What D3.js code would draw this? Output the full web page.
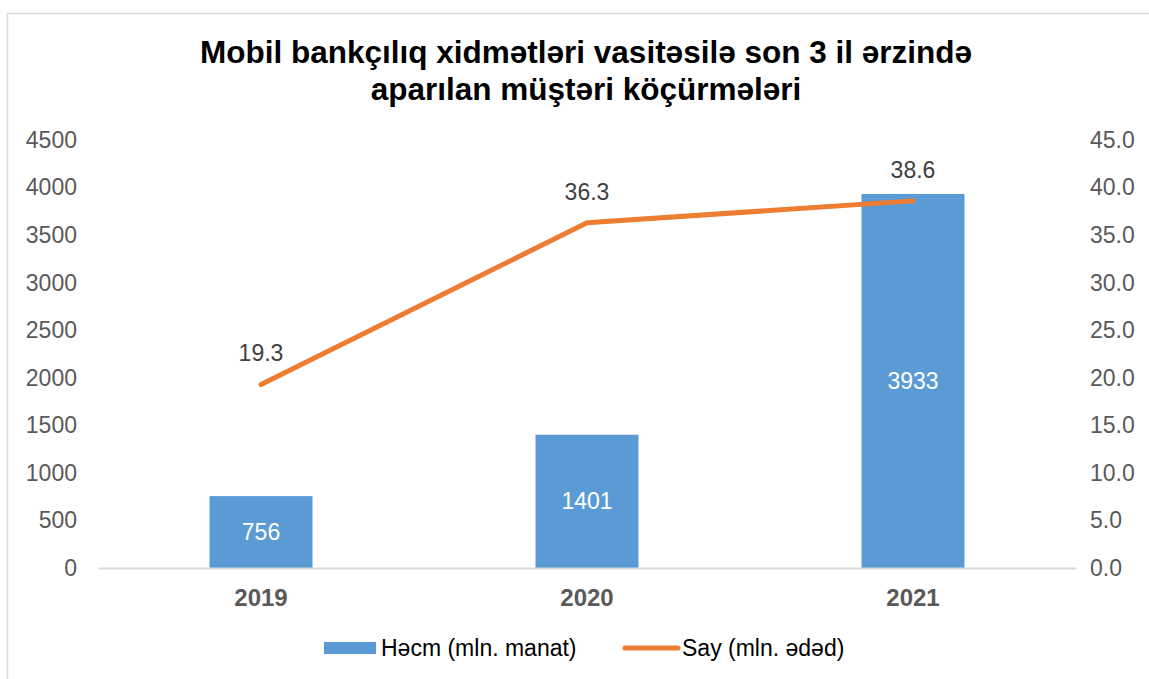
<!DOCTYPE html>
<html>
<head>
<meta charset="utf-8">
<script src="https://cdn.jsdelivr.net/npm/d3@7"></script>
<style>
   body { margin: 0; background: #fff; }
   svg { font-family: "Liberation Sans", Arial, sans-serif; }
</style>
</head>
<body>
<div id="chart"></div>
<script>
const years = ["2019", "2020", "2021"];
const volume = [756, 1401, 3933];
const count = [19.3, 36.3, 38.6];
const leftTicks = [0, 500, 1000, 1500, 2000, 2500, 3000, 3500, 4000, 4500];
const rightTicks = [0, 5, 10, 15, 20, 25, 30, 35, 40, 45];
const titleLines = ["Mobil bankçılıq xidmətləri vasitəsilə son 3 il ərzində", "aparılan müştəri köçürmələri"];
const legendNames = ["Həcm (mln. manat)", "Say (mln. ədəd)"];

const width = 1149, height = 679;
const margin = { top: 140, right: 73, bottom: 111, left: 98 };
const innerW = width - margin.left - margin.right;
const innerH = height - margin.top - margin.bottom;
const font = "Liberation Sans, Arial, sans-serif";

const svg = d3.select("#chart").append("svg")
   .attr("width", width)
   .attr("height", height);

// Outer frame
svg.append("rect")
   .attr("x", 7.5).attr("y", 13.5)
   .attr("width", width).attr("height", height)
   .attr("fill", "none")
   .attr("stroke", "#D9D9D9")
   .attr("stroke-width", 1.5);

// Title
svg.append("text")
   .attr("x", 586).attr("y", 63)
   .attr("text-anchor", "middle")
   .attr("font-size", 31.5).attr("font-weight", "bold").attr("fill", "#000")
   .selectAll("tspan").data(titleLines).join("tspan")
   .attr("x", 586)
   .attr("dy", (d, i) => i === 0 ? 0 : 37)
   .text(d => d);

const g = svg.append("g")
   .attr("transform", "translate(" + margin.left + "," + margin.top + ")");

// Scales
const x = d3.scaleBand().domain(years).range([0, innerW]);
const yLeft = d3.scaleLinear().domain([0, 4500]).range([innerH, 0]);
const yRight = d3.scaleLinear().domain([0, 45]).range([innerH, 0]);
const bandW = x.bandwidth();
const barW = 103;
const cx = d => x(d) + bandW / 2;

// Left axis
const leftAxis = g.append("g")
   .call(d3.axisLeft(yLeft).tickValues(leftTicks).tickSize(0).tickPadding(21).tickFormat(d3.format("d")));
leftAxis.select(".domain").remove();
leftAxis.selectAll("text").attr("font-size", 23).attr("fill", "#595959").attr("font-family", font);

// Right axis
const rightAxis = g.append("g")
   .attr("transform", "translate(" + innerW + ",0)")
   .call(d3.axisRight(yRight).tickValues(rightTicks).tickSize(0).tickPadding(14).tickFormat(d3.format(".1f")));
rightAxis.select(".domain").remove();
rightAxis.selectAll("text").attr("font-size", 23).attr("fill", "#595959").attr("font-family", font);

// Bars
g.selectAll(".bar").data(years).join("rect")
   .attr("class", "bar")
   .attr("x", d => cx(d) - barW / 2)
   .attr("width", barW)
   .attr("y", (d, i) => yLeft(volume[i]))
   .attr("height", (d, i) => innerH - yLeft(volume[i]))
   .attr("fill", "#5B9BD5");

// Bottom axis
const bottomAxis = g.append("g")
   .attr("transform", "translate(0," + innerH + ")")
   .call(d3.axisBottom(x).tickSize(0).tickPadding(21));
bottomAxis.select(".domain").attr("stroke", "#D9D9D9").attr("stroke-width", 2);
bottomAxis.selectAll("text").attr("font-size", 24).attr("font-weight", "bold").attr("fill", "#595959").attr("font-family", font);

// Bar labels
g.selectAll(".bar-label").data(years).join("text")
   .attr("class", "bar-label")
   .attr("x", d => cx(d))
   .attr("y", (d, i) => (yLeft(volume[i]) + innerH) / 2)
   .attr("dy", "0.35em")
   .attr("text-anchor", "middle")
   .attr("font-size", 23).attr("fill", "#fff")
   .text((d, i) => volume[i]);

// Line
const line = d3.line()
   .x((d, i) => cx(years[i]))
   .y(d => yRight(d));
g.append("path")
   .datum(count)
   .attr("d", line)
   .attr("fill", "none")
   .attr("stroke", "#ED7D31")
   .attr("stroke-width", 5)
   .attr("stroke-linecap", "round")
   .attr("stroke-linejoin", "round");

// Line labels
g.selectAll(".line-label").data(count).join("text")
   .attr("class", "line-label")
   .attr("x", (d, i) => cx(years[i]))
   .attr("y", d => yRight(d) - 31)
   .attr("dy", "0.35em")
   .attr("text-anchor", "middle")
   .attr("font-size", 23).attr("fill", "#404040")
   .text(d => d3.format(".1f")(d));

// Legend
const legend = svg.append("g").attr("transform", "translate(0,648)");
legend.append("rect")
   .attr("x", 324).attr("y", -6).attr("width", 52).attr("height", 12)
   .attr("fill", "#5B9BD5");
legend.append("text")
   .attr("x", 381).attr("y", 0).attr("dy", "0.35em")
   .attr("font-size", 23).attr("fill", "#000")
   .text(legendNames[0]);
legend.append("line")
   .attr("x1", 625).attr("x2", 678).attr("y1", 0).attr("y2", 0)
   .attr("stroke", "#ED7D31").attr("stroke-width", 5).attr("stroke-linecap", "round");
legend.append("text")
   .attr("x", 682).attr("y", 0).attr("dy", "0.35em")
   .attr("font-size", 23).attr("fill", "#000")
   .text(legendNames[1]);
</script>
</body>
</html>
